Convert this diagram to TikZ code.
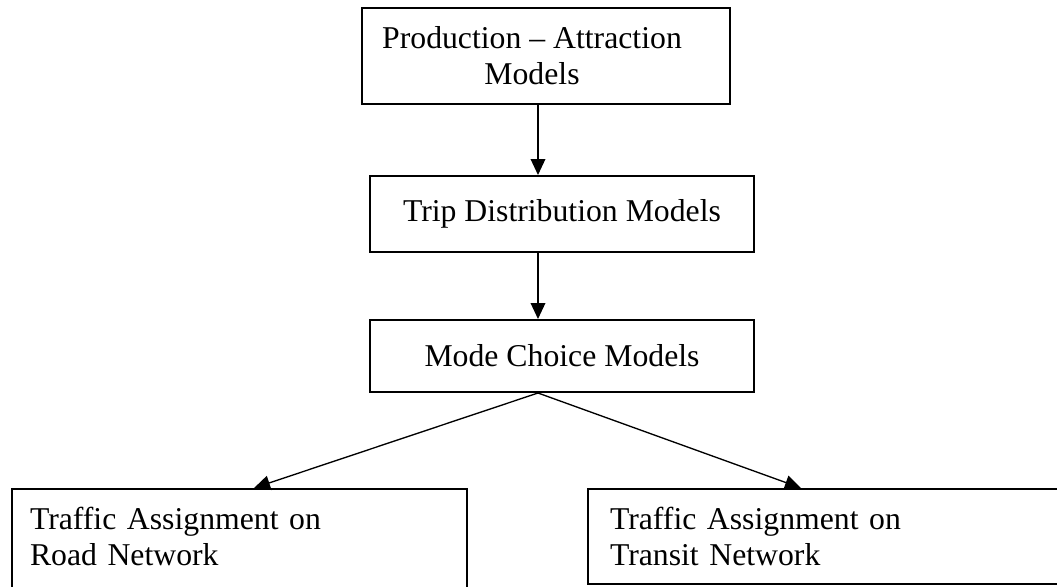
\documentclass[tikz,border=0pt]{standalone}
\usepackage{fontspec}
\setmainfont{Liberation Serif}
\usetikzlibrary{arrows.meta,positioning}

\tikzset{
  box/.style={draw, line width=1.5pt, inner sep=0pt, align=center,
    font=\fontsize{23.8}{26.8}\selectfont},
  leftbox/.style={box, anchor=north west, align=left},
}

\begin{document}
\begin{tikzpicture}[x=0.75pt, y=-0.75pt, >={Triangle[length=12pt,width=11pt]}, line width=1pt]

\useasboundingbox (0,0) rectangle (1057,586);

% Scatole
\node[box, minimum width=276pt, minimum height=72pt] (prod) at (546,56)
  {Production – Attraction\hspace*{21pt}\\Models\hspace*{21pt}};
\node[box, minimum width=288pt, minimum height=57pt] (trip) at (562,214)
  {Trip Distribution Models};
\node[box, minimum width=288pt, minimum height=54pt] (mode) at (562,356)
  {Mode Choice Models};
\node[leftbox, inner xsep=13.5pt, text width=314.25pt, minimum height=84pt] (road) at (11,488)
  {Traffic Assignment on\\Road Network\\[-14pt]\mbox{}};
\node[leftbox, inner xsep=16.5pt, text width=323.25pt, minimum height=71.25pt] (transit) at (587,488)
  {Traffic Assignment on\\Transit Network};

% Frecce verticali
\draw[->] ([xshift=-6pt]prod.south) -- ([xshift=-6pt]prod.south |- trip.north);
\draw[->] ([xshift=-18pt]trip.south) -- ([xshift=-18pt]trip.south |- mode.north);

% Diramazione verso le assegnazioni
\coordinate (fork) at ([xshift=-18pt]mode.south);
\draw[->] (fork) -- ([xshift=10.9pt]road.north);
\draw[->] (fork) -- ([xshift=-18.4pt]transit.north);

\end{tikzpicture}
\end{document}
